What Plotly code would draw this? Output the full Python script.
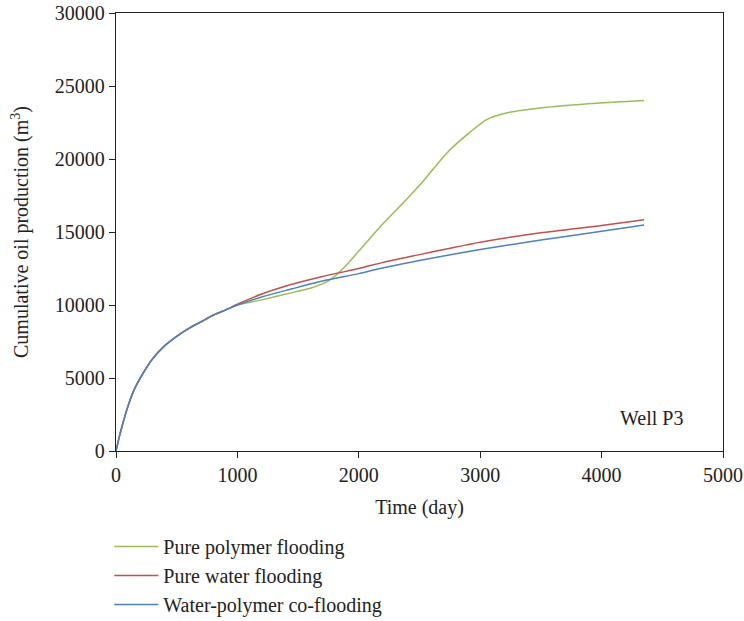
import plotly.graph_objects as go

# Shared early portion (days, m^3)
t_common = [0, 25, 50, 100, 150, 200, 300, 400, 500, 600, 700, 800, 900]
y_common = [0, 900, 1700, 3100, 4200, 5000, 6300, 7200, 7850, 8400, 8850, 9300, 9650]

t_poly = [1000, 1200, 1400, 1600, 1700, 1750, 1800, 1900, 2000, 2175, 2400, 2537, 2724, 2889, 3053, 3218, 3548, 3959, 4350]
y_poly = [10000, 10350, 10750, 11150, 11450, 11650, 11950, 12750, 13700, 15350, 17300, 18550, 20400, 21650, 22700, 23150, 23540, 23815, 24000]

t_water = [1000, 1200, 1400, 1700, 2000, 2200, 2500, 2700, 3000, 3500, 4000, 4350]
y_water = [10050, 10750, 11300, 11950, 12500, 12920, 13450, 13800, 14300, 14950, 15450, 15840]

t_co = [1000, 1200, 1400, 1700, 2000, 2175, 2500, 3000, 3500, 4000, 4350]
y_co = [10000, 10550, 11000, 11650, 12150, 12500, 13050, 13800, 14450, 15050, 15480]

names = ["Pure polymer flooding", "Pure water flooding", "Water-polymer co-flooding"]
colors = ["#9BBB59", "#C0504D", "#4F81BD"]

series = [(t_poly, y_poly), (t_water, y_water), (t_co, y_co)]

FONT = "Liberation Serif"
FS = 20
fig = go.Figure()
for (t, y), name, c in zip(series, names, colors):
    fig.add_trace(go.Scatter(
        x=t_common + t, y=y_common + y, mode="lines", name=name,
        line=dict(color=c, width=1.5, shape="spline", smoothing=0.6),
    ))

axis_common = dict(
    showline=True, linecolor="#222", linewidth=1.3, mirror=True,
    ticks="outside", ticklen=6, tickcolor="#222", tickwidth=1.3,
    showgrid=False, zeroline=False, automargin=False, tickformat="d",
    tickfont=dict(family=FONT, size=FS, color="#222"),
)

fig.update_layout(
    width=744, height=621,
    margin=dict(l=116, r=21, t=13, b=170),
    plot_bgcolor="white", paper_bgcolor="white",
    font=dict(family=FONT, size=FS, color="#222"),
    xaxis=dict(range=[0, 5000], dtick=1000, title=dict(text="Time (day)", font=dict(family=FONT, size=FS), standoff=14), **axis_common),
    yaxis=dict(range=[0, 30000], dtick=5000, title=dict(text="Cumulative oil production (m<sup>3</sup>)", font=dict(family=FONT, size=FS), standoff=20), **axis_common),
    legend=dict(xref="paper", yref="container", x=-0.011, xanchor="left", y=0.1515, yanchor="top",
                orientation="v", font=dict(family=FONT, size=FS, color="#222"),
                tracegroupgap=4, itemwidth=44),
    showlegend=True,
)

fig.add_annotation(x=4415, y=2260, xref="x", yref="y", text="Well P3", showarrow=False,
                   font=dict(family=FONT, size=FS, color="#222"), xanchor="center", yanchor="middle")

fig.write_html("out.html", config={"displayModeBar": False},
               post_script="document.body.style.margin='0';document.body.style.overflow='hidden';")
